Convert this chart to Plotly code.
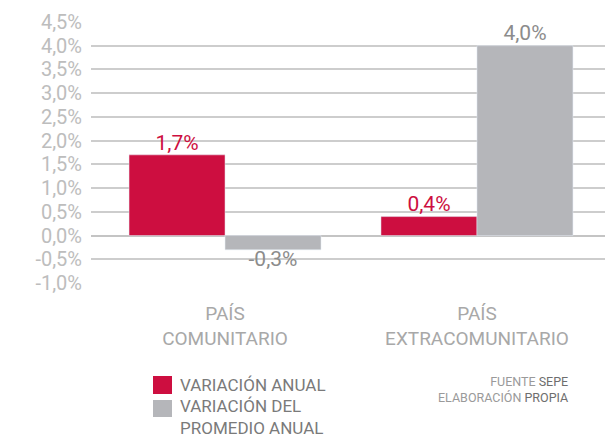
import plotly.graph_objects as go

categories = ["PAÍS<br>COMUNITARIO", "PAÍS<br>EXTRACOMUNITARIO"]
variacion_anual = [1.7, 0.4]
variacion_promedio = [-0.3, 4.0]
series_names = ["VARIACIÓN ANUAL", "VARIACIÓN DEL<br>PROMEDIO ANUAL"]
y_ticks = [-1.0, -0.5, 0.0, 0.5, 1.0, 1.5, 2.0, 2.5, 3.0, 3.5, 4.0, 4.5]

RED = "#CD0E40"
GRAY = "#B5B6BA"
FONT = "Roboto"
GAP = 0.238

def fmt(v):
    return ("%.1f%%" % v).replace(".", ",")

# page body has an 8px margin, so the figure is sized to fit the window
PLOT_L, PLOT_R, PLOT_T, PLOT_B = 91, 610, 21, 284  # window px
def px(X):
    return (X - PLOT_L) / (PLOT_R - PLOT_L)
def py(Y):
    return (PLOT_B - Y) / (PLOT_B - PLOT_T)

fig = go.Figure()
for vals, name, color, tcolor, grp in [
    (variacion_anual, series_names[0], RED, RED, "a"),
    (variacion_promedio, series_names[1], GRAY, "#8C8C8C", "b"),
]:
    fig.add_trace(go.Bar(x=[0, 1], y=vals, name=name, marker_color=color,
                         offsetgroup=grp))
    fig.add_trace(go.Scatter(
        x=[0, 1], y=vals, mode="text", offsetgroup=grp,
        text=[fmt(v) for v in vals],
        textposition=["top center" if v >= 0 else "bottom center" for v in vals],
        textfont=dict(family=FONT, size=21, color=tcolor),
        cliponaxis=False, hoverinfo="skip",
    ))

fig.update_layout(
    width=605, height=430,
    margin=dict(l=PLOT_L - 8, r=613 - PLOT_R, t=PLOT_T - 8, b=438 - PLOT_B),
    paper_bgcolor="white", plot_bgcolor="white",
    barmode="group", bargap=GAP, bargroupgap=0,
    scattermode="group", scattergap=GAP,
    showlegend=False,
    font=dict(family=FONT),
)
fig.update_xaxes(
    range=[-0.532, 1.528], tickmode="array", tickvals=[0, 1], ticktext=categories,
    tickfont=dict(family=FONT, size=19, color="#A8A8A8"),
    showgrid=False, zeroline=False, showline=False, ticks="", ticklabelstandoff=16,
)
fig.update_yaxes(
    range=[-1.02, 4.52], tickmode="array", tickvals=y_ticks,
    ticktext=[fmt(v) for v in y_ticks],
    tickfont=dict(family=FONT, size=20, color="#BDBDBD"),
    showgrid=True, gridcolor="#CDCDCD", gridwidth=1.5,
    zeroline=True, zerolinecolor="#C4C4C4", zerolinewidth=1.5,
    ticks="", ticklabelstandoff=8,
)

# Legend
legend_rows = [(series_names[0], RED, 376, 394, 385), (series_names[1], GRAY, 400, 417, 417.5)]
for name, color, top, bottom, text_mid in legend_rows:
    fig.add_shape(type="rect", xref="paper", yref="paper",
                  x0=px(153), x1=px(172), y0=py(bottom), y1=py(top),
                  fillcolor=color, line_width=0)
    fig.add_annotation(xref="paper", yref="paper", x=px(178), y=py(text_mid),
                       xanchor="left", yanchor="middle", align="left", showarrow=False,
                       text=name, font=dict(family=FONT, size=17, color="#7A7A7A"))

fig.add_annotation(xref="paper", yref="paper", x=px(570), y=py(389.5),
                   xanchor="right", yanchor="middle", align="right", showarrow=False,
                   text="<span style='color:#9A9A9A'>FUENTE</span> SEPE<br>"
                        "<span style='color:#9A9A9A'>ELABORACIÓN</span> PROPIA",
                   font=dict(family=FONT, size=12.5, color="#6E6E6E"))

fig.write_html("out.html")
